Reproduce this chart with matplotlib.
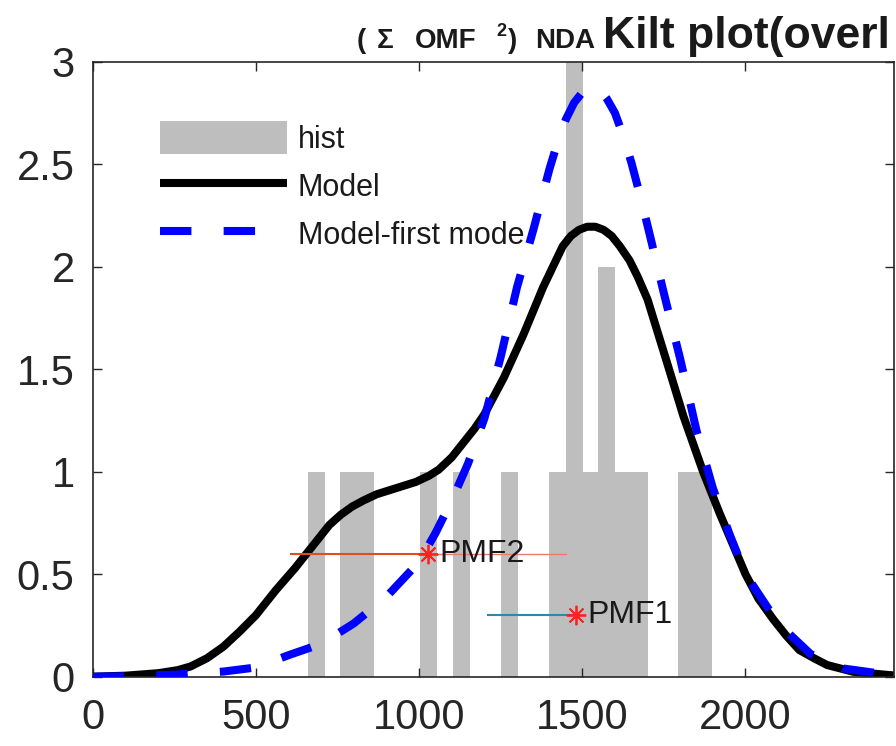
import numpy as np
import matplotlib.pyplot as plt
from matplotlib.patches import Patch
from matplotlib.lines import Line2D

plt.rcParams['font.family'] = ['Liberation Sans', 'DejaVu Sans']

# histogram bins (centre, count)
bin_centers = [687, 785, 837, 1030, 1131, 1278, 1425, 1475, 1525, 1575, 1625, 1675, 1820, 1871]
bin_counts = [1, 1, 1, 1, 1, 1, 1, 3, 1, 2, 1, 1, 1, 1]
bin_width = 52

# model curve
model_x = [0, 100, 200, 260, 300, 350, 400, 450, 500, 560, 620, 655, 690, 725, 760, 795,
           830, 870, 910, 950, 990, 1030, 1060, 1100, 1135, 1170, 1200, 1260, 1320,
           1380, 1440, 1465, 1490, 1515, 1540, 1565, 1590, 1615, 1645, 1670, 1700,
           1760, 1810, 1870, 1920, 2000, 2040, 2085, 2125, 2165, 2210, 2250, 2330, 2455]
model_y = [0.0, 0.005, 0.017, 0.032, 0.05, 0.09, 0.146, 0.22, 0.30, 0.42, 0.53, 0.60,
           0.67, 0.74, 0.79, 0.83, 0.86, 0.89, 0.91, 0.93, 0.95, 0.98, 1.01, 1.07, 1.14,
           1.21, 1.28, 1.46, 1.67, 1.90, 2.10, 2.15, 2.18, 2.195, 2.195, 2.18, 2.15, 2.10,
           2.03, 1.95, 1.84, 1.53, 1.27, 1.0, 0.80, 0.50, 0.38, 0.28, 0.20, 0.13, 0.09,
           0.057, 0.024, 0.006]

# first mode
mode1_x = [0, 100, 250, 400, 500, 600, 700, 800, 900, 1000, 1050, 1100, 1150, 1200,
           1250, 1300, 1350, 1400, 1425, 1450, 1475, 1500, 1525, 1550, 1575, 1600,
           1625, 1650, 1675, 1700, 1750, 1800, 1850, 1900, 1950, 2000, 2100, 2200,
           2300, 2455]
mode1_y = [0.0, 0.002, 0.01, 0.025, 0.045, 0.105, 0.16, 0.26, 0.39, 0.56, 0.70, 0.86,
           1.04, 1.26, 1.56, 1.90, 2.18, 2.48, 2.61, 2.72, 2.80, 2.85, 2.875, 2.87,
           2.82, 2.75, 2.64, 2.51, 2.36, 2.20, 1.87, 1.55, 1.20, 0.92, 0.70, 0.50,
           0.26, 0.11, 0.04, 0.006]

# PMF points and their horizontal bars
pmf_names = ['PMF1', 'PMF2']
pmf_x = [1482, 1028]
pmf_y = [0.3, 0.6]
pmf_lo = [1211, 609]
pmf_hi = [1482, 1451]

W, H = 896, 746
fig = plt.figure(figsize=(W / 100, H / 100), dpi=100)
ax = fig.add_axes([92.7 / W, 1 - 676.7 / H, (894 - 92.7) / W, (676.7 - 61.7) / H])

gray = '#bebebe'
ax.bar(bin_centers, bin_counts, width=bin_width, color=gray, edgecolor='none', zorder=1)
ax.plot(model_x, model_y, color='black', lw=5.8, solid_joinstyle='round', zorder=2)
ax.plot(mode1_x, mode1_y, color='#0000ff', lw=5.8, linestyle=(0, (3.9, 4.0)),
        dash_capstyle='butt', zorder=3)

# PMF2: orange left half, thin red right half
ax.plot([pmf_lo[1], pmf_x[1]], [pmf_y[1]] * 2, color='#d95319', lw=1.5, zorder=4)
ax.plot([pmf_x[1], pmf_hi[1]], [pmf_y[1]] * 2, color='#ee7a6e', lw=1.0, zorder=4)
# PMF1
ax.plot([pmf_lo[0], pmf_hi[0]], [pmf_y[0]] * 2, color='#2f86b4', lw=1.5, zorder=4)

ax.plot(pmf_x, pmf_y, linestyle='none', marker=(8, 2, 0), color='#ff2020',
        mec='#ff2020', ms=14, mew=1.3, zorder=5)
for name, x, y in zip(pmf_names, pmf_x, pmf_y):
    ax.annotate(name, (x, y), xytext=(8, 0), textcoords='offset points',
                fontsize=23, va='center', ha='left', color='#1a1a1a', zorder=6)

ax.set_xlim(0, 2455)
ax.set_ylim(0, 3)
ax.set_xticks([0, 500, 1000, 1500, 2000])
ax.set_yticks([0, 0.5, 1, 1.5, 2, 2.5, 3])
ax.set_yticklabels(['0', '0.5', '1', '1.5', '2', '2.5', '3'])
ax.tick_params(direction='in', length=6.5, width=1, top=True, right=True,
               labelsize=30, colors='#262626')
ax.tick_params(axis='x', pad=15)
ax.tick_params(axis='y', pad=13)
for s in ax.spines.values():
    s.set_color('#262626')
    s.set_linewidth(1.2)

handles = [Patch(facecolor=gray, edgecolor='none'),
           Line2D([], [], color='black', lw=5.8, solid_capstyle='butt'),
           Line2D([], [], color='#0000ff', lw=5.8, linestyle=(0, (3.9, 4.0)), dash_capstyle='butt')]
leg = ax.legend(handles, ['hist', 'Model', 'Model-first mode'], loc='upper left',
                bbox_to_anchor=(160 / W, 1 - 121 / H), bbox_transform=fig.transFigure,
                frameon=False, fontsize=22, handlelength=4.15, handleheight=1.3,
                handletextpad=0.36, labelspacing=0.47, borderpad=0, borderaxespad=0)
leg.set_zorder(1.5)
for t in leg.get_texts():
    t.set_color('#1a1a1a')

# title pieces
tkw = dict(fontsize=20, fontweight='bold', va='baseline', ha='left', color='#1a1a1a')
fig.text(357 / W, 1 - 48 / H, '(', **tkw)
fig.text(377 / W, 1 - 48 / H, 'Σ', **tkw)
fig.text(415 / W, 1 - 48 / H, 'OMF', **tkw)
fig.text(496 / W, 1 - 36 / H, '2', fontsize=13, fontweight='bold', va='baseline',
         ha='left', color='#1a1a1a')
fig.text(508 / W, 1 - 48 / H, ')', **tkw)
fig.text(535 / W, 1 - 48 / H, 'NDA', **tkw)
fig.text(603 / W, 1 - 48 / H, 'Kilt plot(overl', fontsize=32, fontweight='bold',
         va='baseline', ha='left', color='#1a1a1a')

fig.savefig('out.png', dpi=100, facecolor='white')
